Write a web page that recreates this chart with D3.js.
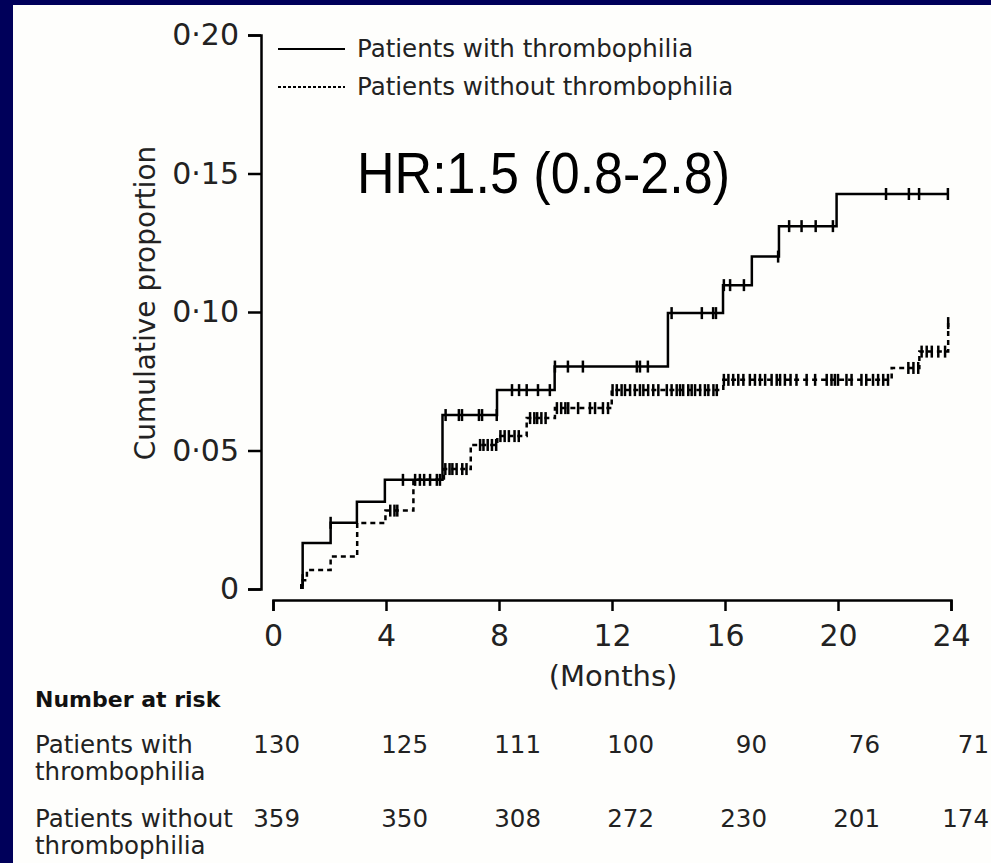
<!DOCTYPE html>
<html>
<head>
<meta charset="utf-8">
<script src="https://cdn.jsdelivr.net/npm/d3@7"></script>
<style>
  body { margin: 0; background: #00005a; }
  svg { display: block; }
</style>
</head>
<body>
<div id="chart"></div>
<script>
// step points of each curve: month where the step happens and the new cumulative proportion
const withTimes = [1.05, 1.05, 2.04, 2.97, 3.96, 6.0, 7.93, 9.97, 13.98, 15.93, 16.95, 17.91, 19.95, 23.93];
const withVals  = [0, 0.0166, 0.0239, 0.0315, 0.0394, 0.0628, 0.0718, 0.0803, 0.0996, 0.1097, 0.120, 0.131, 0.1426, 0.1426];

const withoutTimes = [1.0, 1.0, 1.2, 2.04, 2.98, 3.98, 4.97, 6.05, 7.0, 7.94, 8.98, 9.98, 11.99, 15.94, 21.9, 22.88, 23.9, 23.9];
const withoutVals  = [0, 0.0032, 0.0069, 0.0117, 0.0238, 0.0283, 0.0394, 0.0433, 0.052, 0.0552, 0.0617, 0.0653, 0.0718, 0.0755, 0.0798, 0.0857, 0.096, 0.096];

// censored observations (months)
const withCensor = [2.04, 4.6, 5.2, 5.56, 5.91, 6.11, 6.58, 6.69, 7.29, 7.4, 7.92,
  8.46, 8.71, 8.98, 9.38, 9.8, 9.98, 10.44, 10.97, 12.88, 12.99, 13.27,
  14.11, 15.18, 15.58, 15.68, 15.96, 16.18, 16.67, 17.88,
  18.27, 18.71, 19.21, 19.82, 21.7, 22.51, 22.87, 23.89];

const withoutCensor = [1.05, 4.15, 4.3, 4.4, 5.03, 5.35, 5.8, 6.1, 6.25, 6.35, 6.5, 6.7, 6.85,
  7.33, 7.45, 7.6, 7.75, 7.9, 8.05, 8.2, 8.35, 8.55, 8.7, 9.1, 9.25, 9.35, 9.5, 9.65,
  10.05, 10.2, 10.35, 10.45, 10.8, 11.22, 11.4, 11.68, 11.86,
  12.02, 12.17, 12.34, 12.46, 12.64, 12.81, 12.99, 13.11, 13.28, 13.46, 13.64,
  13.94, 14.11, 14.29, 14.41, 14.52, 14.7, 14.82, 14.94, 15.12, 15.29, 15.41, 15.59, 15.71,
  15.96, 16.12, 16.29, 16.47, 16.65, 16.88, 17.06, 17.24, 17.42, 17.65, 17.83, 17.95,
  18.12, 18.32, 18.53, 18.89, 19.19, 19.6, 19.77, 19.89, 20.0, 20.3, 20.48, 20.83,
  21.0, 21.24, 21.42, 21.6, 21.77, 22.49, 22.67, 22.84,
  22.96, 23.14, 23.32, 23.55, 23.79, 23.9];

const xTicks = [0, 4, 8, 12, 16, 20, 24];
const yTicks = [0, 0.05, 0.10, 0.15, 0.20];

const legendLabels = ["Patients with thrombophilia", "Patients without thrombophilia"];
const hrLabel = "HR:1.5 (0.8-2.8)";

// number at risk table
const riskMonths = [0, 4, 8, 12, 16, 20, 24];
const riskRowLabels = [["Patients with", "thrombophilia"], ["Patients without", "thrombophilia"]];
const riskWith = [130, 125, 111, 100, 90, 76, 71];
const riskWithout = [359, 350, 308, 272, 230, 201, 174];

const w = 991;
const h = 863;
const font = "'DejaVu Sans', Verdana, sans-serif";

const svg = d3.select("#chart")
              .append("svg")
              .attr("width", w)
              .attr("height", h);

// navy frame with the white panel
svg.append("rect").attr("width", w).attr("height", h).attr("fill", "#00005a");
svg.append("rect").attr("x", 13).attr("y", 5).attr("width", w - 13).attr("height", h - 5).attr("fill", "#fefefc");

const xScale = d3.scaleLinear().domain([0, 24]).range([273, 951]);
const yScale = d3.scaleLinear().domain([0, 0.20]).range([589, 35]);

// axes
const yAxis = d3.axisLeft(yScale)
                .tickValues(yTicks)
                .tickSize(13)
                .tickPadding(9)
                .tickFormat(d => d === 0 ? "0" : d3.format(".2f")(d).replace(".", "\u00b7"));
const gy = svg.append("g")
              .attr("transform", "translate(261,0)")
              .call(yAxis);

const xAxis = d3.axisBottom(xScale)
                .tickValues(xTicks)
                .tickSize(11)
                .tickPadding(14)
                .tickFormat(d3.format("d"));
const gx = svg.append("g")
              .attr("transform", "translate(0,600)")
              .call(xAxis);

[gx, gy].forEach(g => {
  g.selectAll("path, line").attr("stroke", "#000").attr("stroke-width", 2.5);
  g.selectAll("text").attr("font-family", font).attr("font-size", 30).attr("fill", "#222");
});

svg.append("text")
   .attr("transform", "translate(155,303) rotate(-90)")
   .attr("text-anchor", "middle")
   .attr("font-family", font)
   .attr("font-size", 28)
   .attr("fill", "#222")
   .text("Cumulative proportion");

svg.append("text")
   .attr("x", 613)
   .attr("y", 686)
   .attr("text-anchor", "middle")
   .attr("font-family", font)
   .attr("font-size", 29)
   .attr("fill", "#222")
   .text("(Months)");

// curves
const line = d3.line()
               .x(d => xScale(d[0]))
               .y(d => yScale(d[1]))
               .curve(d3.curveStepAfter);

const withData = withTimes.map((t, i) => [t, withVals[i]]);
const withoutData = withoutTimes.map((t, i) => [t, withoutVals[i]]);

svg.append("path")
   .datum(withoutData)
   .attr("d", line)
   .attr("fill", "none")
   .attr("stroke", "#000")
   .attr("stroke-width", 2.5)
   .attr("stroke-dasharray", "5,4");

svg.append("path")
   .datum(withData)
   .attr("d", line)
   .attr("fill", "none")
   .attr("stroke", "#000")
   .attr("stroke-width", 2.5);

// value of a step curve at time t
const bis = d3.bisector(d => d[0]).right;
function valueAt(data, t){
  let i = bis(data, t) - 1;
  if(i < 0) i = 0;
  return data[i][1];
}

function censorMarks(times, data){
  svg.append("g")
     .selectAll("line")
     .data(times)
     .enter()
     .append("line")
     .attr("x1", d => xScale(d))
     .attr("x2", d => xScale(d))
     .attr("y1", d => yScale(valueAt(data, d)) - 6)
     .attr("y2", d => yScale(valueAt(data, d)) + 6)
     .attr("stroke", "#000")
     .attr("stroke-width", 2.5);
}
censorMarks(withCensor, withData);
censorMarks(withoutCensor, withoutData);

// legend
const legend = svg.append("g");
legend.selectAll("line")
      .data(legendLabels)
      .enter()
      .append("line")
      .attr("x1", 278)
      .attr("x2", 345)
      .attr("y1", (d, i) => 49 + i * 38)
      .attr("y2", (d, i) => 49 + i * 38)
      .attr("stroke", "#000")
      .attr("stroke-width", (d, i) => i === 0 ? 2.2 : 2)
      .attr("stroke-dasharray", (d, i) => i === 0 ? null : "3,2");
legend.selectAll("text")
      .data(legendLabels)
      .enter()
      .append("text")
      .attr("x", 357)
      .attr("y", (d, i) => 57 + i * 38)
      .attr("font-family", font)
      .attr("font-size", 24.5)
      .attr("fill", "#222")
      .text(d => d);

svg.append("text")
   .attr("x", 357)
   .attr("y", 193)
   .attr("font-family", "'Liberation Sans', Arial, sans-serif")
   .attr("font-size", 57)
   .attr("textLength", 373)
   .attr("lengthAdjust", "spacingAndGlyphs")
   .attr("fill", "#000")
   .text(hrLabel);

// number at risk
svg.append("text")
   .attr("x", 35)
   .attr("y", 707)
   .attr("font-family", font)
   .attr("font-size", 22)
   .attr("font-weight", "bold")
   .attr("fill", "#111")
   .text("Number at risk");

const rowBase = [753, 827];
riskRowLabels.forEach((lines, r) => {
  lines.forEach((txt, k) => {
    svg.append("text")
       .attr("x", 35)
       .attr("y", rowBase[r] + k * 27)
       .attr("font-family", font)
       .attr("font-size", 24.5)
       .attr("fill", "#222")
       .text(txt);
  });
});

// last column is pulled in a little so it stays inside the page
[riskWith, riskWithout].forEach((row, r) => {
  svg.append("g")
     .selectAll("text")
     .data(row)
     .enter()
     .append("text")
     .attr("x", (d, i) => i === 0 ? 300 : Math.min(xScale(riskMonths[i]) + 42, w - 2))
     .attr("y", rowBase[r])
     .attr("text-anchor", "end")
     .attr("font-family", font)
     .attr("font-size", 24.5)
     .attr("fill", "#222")
     .text(d => d);
});
</script>
</body>
</html>
